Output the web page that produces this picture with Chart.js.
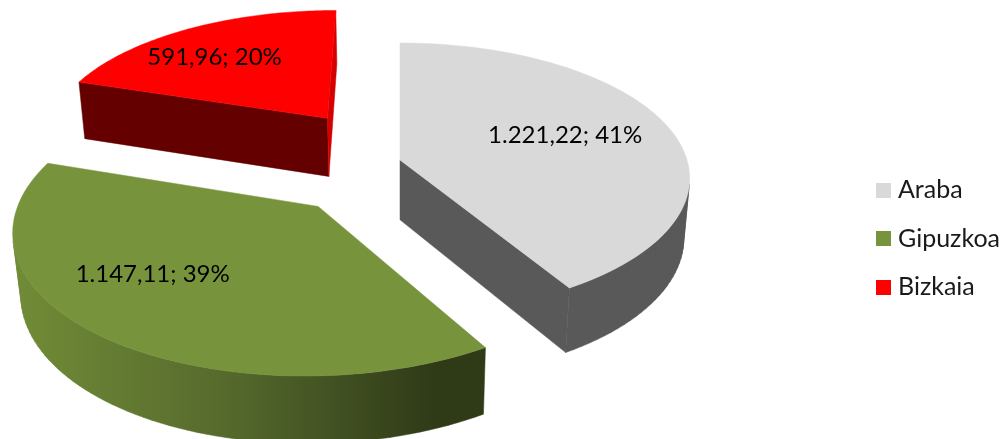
<!DOCTYPE html>
<html>
<head>
<meta charset="utf-8">
<script src="https://cdn.jsdelivr.net/npm/chart.js@4"></script>
<style>
    html, body { margin: 0; padding: 0; background: #fff; overflow: hidden; }
    #chart-container { width: 1008px; height: 439px; position: relative; }
</style>
</head>
<body>
<div id="chart-container"><canvas id="piechart"></canvas></div>
<script>
const labels = ['Araba', 'Gipuzkoa', 'Bizkaia'];
const values = [1221.22, 1147.11, 591.96];

const topColors = ['#D9D9D9', '#77933C', '#FF0000'];
const explode = [0, 0.43, 0.42];
const explodeShift = [[0, 0], [-0.006, -0.004], [-0.017, 0.012]];
const labelRadius = [0.6, 0.6, 0.6];
const labelNudge = [[3, -4], [-40, -6], [-26, -5]];

// camera for the tilted disc, radius 1 in plane units
const view = { x0: 400, y0: 160, A: 287, B: 132.8, p: 0.135, q: 0.02, D: 61 };

function project(u, v, low) {
    const w = 1 - view.p * v + (low ? view.q : 0);
    return {
        x: view.x0 + view.A * u / w,
        y: view.y0 + (view.B * v + (low ? view.D : 0)) / w
    };
}

function rimPoints(arc, index) {
    const mid = (arc.startAngle + arc.endAngle) / 2;
    const cu = explode[index] * Math.cos(mid) + explodeShift[index][0];
    const cv = explode[index] * Math.sin(mid) + explodeShift[index][1];
    const pts = [];
    const n = 80;
    for (let i = 0; i <= n; i++) {
        const a = arc.startAngle + (arc.endAngle - arc.startAngle) * i / n;
        pts.push([cu + Math.cos(a), cv + Math.sin(a)]);
    }
    return { cu, cv, mid, pts };
}

function area(poly) {
    let s = 0;
    poly.forEach((p, i) => {
        const q = poly[(i + 1) % poly.length];
        s += p.x * q.y - q.x * p.y;
    });
    return s / 2;
}

function tracePoly(ctx, poly) {
    poly.forEach((p, i) => i ? ctx.lineTo(p.x, p.y) : ctx.moveTo(p.x, p.y));
    ctx.closePath();
}

function fillPath(ctx, fill) {
    ctx.fillStyle = fill;
    ctx.fill();
    ctx.strokeStyle = fill;
    ctx.lineWidth = 0.5;
    ctx.stroke();
}

function radialFace(ctx, c, rim, fill, sign) {
    const poly = [
        project(c[0], c[1], false),
        project(rim[0], rim[1], false),
        project(rim[0], rim[1], true),
        project(c[0], c[1], true)
    ];
    if (area(poly) * sign > 0) {
        ctx.beginPath();
        tracePoly(ctx, poly);
        fillPath(ctx, fill);
    }
}

const pie3d = {
    id: 'pie3d',
    beforeDatasetsDraw(chart) {
        const ctx = chart.ctx;
        const arcs = chart.getDatasetMeta(0).data;
        const total = values.reduce((a, b) => a + b, 0);
        const fmt = new Intl.NumberFormat('de-DE', { minimumFractionDigits: 2, maximumFractionDigits: 2 });

        const gr = ctx.createLinearGradient(13, 0, 483, 0);
        gr.addColorStop(0, '#718C37');
        gr.addColorStop(0.45, '#566A2D');
        gr.addColorStop(0.9, '#2F3A17');
        gr.addColorStop(1, '#2F3A17');
        const wallColors = ['#595959', gr, '#640000'];
        const startFace = ['#595959', '#2F3A17', '#640000'];
        const endFace = ['#595959', '#2F3A17', '#D40000'];

        ctx.save();
        arcs.forEach((arc, i) => {
            const { cu, cv, pts } = rimPoints(arc, i);
            const c = [cu, cv];
            radialFace(ctx, c, pts[0], startFace[i], -1);
            radialFace(ctx, c, pts[pts.length - 1], endFace[i], 1);
            // outer wall, front facing strips only, one path so no seams show
            ctx.beginPath();
            for (let k = 0; k < pts.length - 1; k++) {
                const quad = [
                    project(pts[k][0], pts[k][1], false),
                    project(pts[k + 1][0], pts[k + 1][1], false),
                    project(pts[k + 1][0], pts[k + 1][1], true),
                    project(pts[k][0], pts[k][1], true)
                ];
                if (area(quad) < 0) tracePoly(ctx, quad);
            }
            fillPath(ctx, wallColors[i]);
            ctx.beginPath();
            tracePoly(ctx, [project(cu, cv, false)].concat(pts.map(p => project(p[0], p[1], false))));
            fillPath(ctx, topColors[i]);
        });

        ctx.fillStyle = '#000';
        ctx.font = '24px Lato';
        ctx.textAlign = 'center';
        ctx.textBaseline = 'middle';
        arcs.forEach((arc, i) => {
            const { cu, cv, mid } = rimPoints(arc, i);
            const r = labelRadius[i];
            const p = project(cu + r * Math.cos(mid), cv + r * Math.sin(mid), false);
            const txt = fmt.format(values[i]) + '; ' + Math.round(values[i] * 100 / total) + '%';
            ctx.fillText(txt, p.x + labelNudge[i][0], p.y + labelNudge[i][1]);
        });
        ctx.restore();
        return false;
    }
};

// legend swatch as a small canvas, the default gap to the text is too wide
function swatch(color) {
    const c = document.createElement('canvas');
    c.width = 15;
    c.height = 15;
    const g = c.getContext('2d');
    g.fillStyle = color;
    g.fillRect(0, 0, 15, 15);
    return c;
}

const ctx = document.getElementById('piechart').getContext('2d');
new Chart(ctx, {
    type: 'pie',
    data: {
        labels: labels,
        datasets: [{ data: values, backgroundColor: topColors, borderWidth: 0 }]
    },
    options: {
        responsive: true,
        maintainAspectRatio: false,
        animation: false,
        layout: { padding: { top: 38, right: -2 } },
        plugins: {
            tooltip: { enabled: false },
            legend: {
                position: 'right',
                labels: {
                    usePointStyle: true,
                    pointStyleWidth: 4,
                    boxHeight: 15,
                    padding: 23.5,
                    color: '#1A1A1A',
                    font: { family: 'Lato', size: 25 },
                    generateLabels: (chart) => Chart.overrides.pie.plugins.legend.labels.generateLabels(chart)
                        .map((item, i) => ({ ...item, pointStyle: swatch(topColors[i]) }))
                }
            }
        }
    },
    plugins: [pie3d]
});
</script>
</body>
</html>
